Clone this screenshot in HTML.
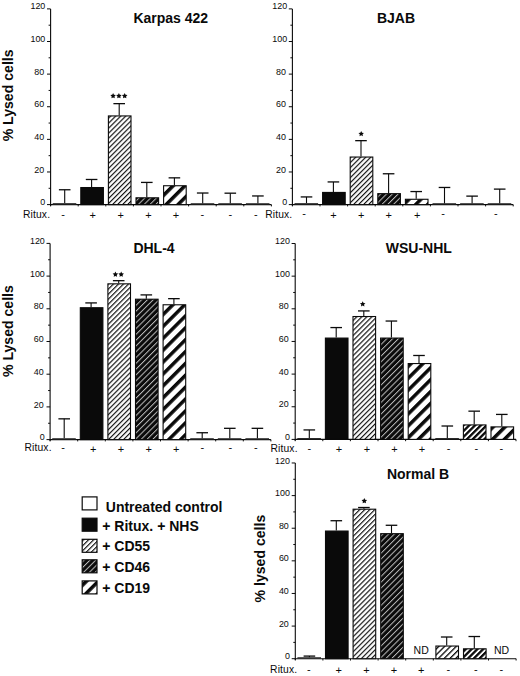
<!DOCTYPE html>
<html><head><meta charset="utf-8"><style>
html,body{margin:0;padding:0;background:#fff;overflow:hidden;width:520px;height:676px;}
svg{display:block;}
text{font-family:"Liberation Sans",sans-serif;fill:#0a0a0a;}
.tk{font-size:9.4px;text-anchor:end;}
.rx{font-size:10.3px;text-anchor:end;letter-spacing:0.15px;}
.pm{font-size:11px;text-anchor:middle;}
.ti{font-size:14px;font-weight:bold;}
.yl{font-size:14.1px;font-weight:bold;text-anchor:middle;}
.lg{font-size:14px;font-weight:bold;}
.nd{font-size:10.5px;text-anchor:middle;}
</style></head><body>
<svg width="520" height="676" viewBox="0 0 520 676">
<defs>
<pattern id="p55" patternUnits="userSpaceOnUse" width="3.55" height="3.55" patternTransform="rotate(45)">
<rect width="3.55" height="3.55" fill="#fff"/><rect x="0" y="0" width="1.15" height="3.55" fill="#0a0a0a"/></pattern>
<pattern id="p46" patternUnits="userSpaceOnUse" width="4.1" height="4.1" patternTransform="rotate(45)">
<rect width="4.1" height="4.1" fill="#0a0a0a"/><rect x="0" y="0" width="1.0" height="4.1" fill="#bbb"/></pattern>
<pattern id="m55" patternUnits="userSpaceOnUse" width="4.1" height="4.1" patternTransform="rotate(45)">
<rect width="4.1" height="4.1" fill="#fff"/><rect x="0" y="0" width="1.3" height="4.1" fill="#0a0a0a"/></pattern>
<pattern id="m46" patternUnits="userSpaceOnUse" width="4.1" height="4.1" patternTransform="rotate(45)">
<rect width="4.1" height="4.1" fill="#fff"/><rect x="0" y="0" width="2.3" height="4.1" fill="#0a0a0a"/></pattern>
<pattern id="m19" patternUnits="userSpaceOnUse" width="8.4" height="8.4" patternTransform="rotate(45) translate(2,0)">
<rect width="8.4" height="8.4" fill="#fff"/><rect x="0" y="0" width="3.5" height="8.4" fill="#0a0a0a"/></pattern>
<pattern id="p19" patternUnits="userSpaceOnUse" width="8.4" height="8.4" patternTransform="rotate(45)">
<rect width="8.4" height="8.4" fill="#fff"/><rect x="0" y="0" width="3.5" height="8.4" fill="#0a0a0a"/></pattern>
</defs>
<rect width="520" height="676" fill="#fff"/>
<line x1="50.6" y1="8.88" x2="50.6" y2="205.80" stroke="#0a0a0a" stroke-width="1.1"/>
<line x1="47.00" y1="204.60" x2="50.6" y2="204.60" stroke="#0a0a0a" stroke-width="1"/>
<text transform="translate(45.30,205.20) scale(0.95,1)" class="tk">0</text>
<line x1="48.60" y1="188.29" x2="50.6" y2="188.29" stroke="#0a0a0a" stroke-width="1"/>
<line x1="47.00" y1="171.98" x2="50.6" y2="171.98" stroke="#0a0a0a" stroke-width="1"/>
<text transform="translate(44.10,172.58) scale(0.95,1)" class="tk">20</text>
<line x1="48.60" y1="155.67" x2="50.6" y2="155.67" stroke="#0a0a0a" stroke-width="1"/>
<line x1="47.00" y1="139.36" x2="50.6" y2="139.36" stroke="#0a0a0a" stroke-width="1"/>
<text transform="translate(44.10,139.96) scale(0.95,1)" class="tk">40</text>
<line x1="48.60" y1="123.05" x2="50.6" y2="123.05" stroke="#0a0a0a" stroke-width="1"/>
<line x1="47.00" y1="106.74" x2="50.6" y2="106.74" stroke="#0a0a0a" stroke-width="1"/>
<text transform="translate(44.10,107.34) scale(0.95,1)" class="tk">60</text>
<line x1="48.60" y1="90.43" x2="50.6" y2="90.43" stroke="#0a0a0a" stroke-width="1"/>
<line x1="47.00" y1="74.12" x2="50.6" y2="74.12" stroke="#0a0a0a" stroke-width="1"/>
<text transform="translate(44.10,74.72) scale(0.95,1)" class="tk">80</text>
<line x1="48.60" y1="57.81" x2="50.6" y2="57.81" stroke="#0a0a0a" stroke-width="1"/>
<line x1="47.00" y1="41.50" x2="50.6" y2="41.50" stroke="#0a0a0a" stroke-width="1"/>
<text transform="translate(45.30,42.10) scale(0.95,1)" class="tk">100</text>
<line x1="48.60" y1="25.19" x2="50.6" y2="25.19" stroke="#0a0a0a" stroke-width="1"/>
<line x1="47.00" y1="8.88" x2="50.6" y2="8.88" stroke="#0a0a0a" stroke-width="1"/>
<text transform="translate(45.30,9.48) scale(0.95,1)" class="tk">120</text>
<line x1="50.6" y1="204.60" x2="271.40" y2="204.60" stroke="#0a0a0a" stroke-width="1.1"/>
<line x1="50.60" y1="204.60" x2="50.60" y2="206.40" stroke="#0a0a0a" stroke-width="1"/>
<line x1="78.20" y1="204.60" x2="78.20" y2="206.40" stroke="#0a0a0a" stroke-width="1"/>
<line x1="105.80" y1="204.60" x2="105.80" y2="206.40" stroke="#0a0a0a" stroke-width="1"/>
<line x1="133.40" y1="204.60" x2="133.40" y2="206.40" stroke="#0a0a0a" stroke-width="1"/>
<line x1="161.00" y1="204.60" x2="161.00" y2="206.40" stroke="#0a0a0a" stroke-width="1"/>
<line x1="188.60" y1="204.60" x2="188.60" y2="206.40" stroke="#0a0a0a" stroke-width="1"/>
<line x1="216.20" y1="204.60" x2="216.20" y2="206.40" stroke="#0a0a0a" stroke-width="1"/>
<line x1="243.80" y1="204.60" x2="243.80" y2="206.40" stroke="#0a0a0a" stroke-width="1"/>
<line x1="271.40" y1="204.60" x2="271.40" y2="206.40" stroke="#0a0a0a" stroke-width="1"/>
<line x1="64.70" y1="203.13" x2="64.70" y2="189.76" stroke="#0a0a0a" stroke-width="1.1"/>
<line x1="58.90" y1="189.76" x2="70.50" y2="189.76" stroke="#0a0a0a" stroke-width="1.3"/>
<rect x="52.70" y="203.13" width="23.60" height="1.47" fill="#2a2a2a"/>
<line x1="91.60" y1="186.99" x2="91.60" y2="179.48" stroke="#0a0a0a" stroke-width="1.1"/>
<line x1="85.80" y1="179.48" x2="97.40" y2="179.48" stroke="#0a0a0a" stroke-width="1.3"/>
<rect x="80.80" y="187.54" width="22.60" height="17.06" fill="#0a0a0a" stroke="#0a0a0a" stroke-width="1.1"/>
<line x1="119.20" y1="115.38" x2="119.20" y2="103.64" stroke="#0a0a0a" stroke-width="1.1"/>
<line x1="113.40" y1="103.64" x2="125.00" y2="103.64" stroke="#0a0a0a" stroke-width="1.3"/>
<rect x="108.40" y="115.93" width="22.60" height="88.67" fill="url(#p55)" stroke="#0a0a0a" stroke-width="1.1"/>
<line x1="146.80" y1="197.26" x2="146.80" y2="182.42" stroke="#0a0a0a" stroke-width="1.1"/>
<line x1="141.00" y1="182.42" x2="152.60" y2="182.42" stroke="#0a0a0a" stroke-width="1.3"/>
<rect x="136.00" y="197.81" width="22.60" height="6.79" fill="url(#p46)" stroke="#0a0a0a" stroke-width="1.1"/>
<line x1="174.40" y1="185.19" x2="174.40" y2="177.85" stroke="#0a0a0a" stroke-width="1.1"/>
<line x1="168.60" y1="177.85" x2="180.20" y2="177.85" stroke="#0a0a0a" stroke-width="1.3"/>
<rect x="163.60" y="185.74" width="22.60" height="18.86" fill="url(#p19)" stroke="#0a0a0a" stroke-width="1.1"/>
<line x1="202.70" y1="203.62" x2="202.70" y2="193.02" stroke="#0a0a0a" stroke-width="1.1"/>
<line x1="196.90" y1="193.02" x2="208.50" y2="193.02" stroke="#0a0a0a" stroke-width="1.3"/>
<rect x="190.70" y="203.20" width="23.60" height="1.40" fill="#2a2a2a"/>
<line x1="230.30" y1="203.62" x2="230.30" y2="193.18" stroke="#0a0a0a" stroke-width="1.1"/>
<line x1="224.50" y1="193.18" x2="236.10" y2="193.18" stroke="#0a0a0a" stroke-width="1.3"/>
<rect x="218.30" y="203.20" width="23.60" height="1.40" fill="#2a2a2a"/>
<line x1="257.90" y1="203.62" x2="257.90" y2="195.96" stroke="#0a0a0a" stroke-width="1.1"/>
<line x1="252.10" y1="195.96" x2="263.70" y2="195.96" stroke="#0a0a0a" stroke-width="1.3"/>
<rect x="245.90" y="203.20" width="23.60" height="1.40" fill="#2a2a2a"/>
<polygon points="113.10,93.10 113.95,94.83 115.86,95.10 114.48,96.45 114.80,98.35 113.10,97.45 111.40,98.35 111.72,96.45 110.34,95.10 112.25,94.83" fill="#0a0a0a"/>
<polygon points="118.90,93.10 119.75,94.83 121.66,95.10 120.28,96.45 120.60,98.35 118.90,97.45 117.20,98.35 117.52,96.45 116.14,95.10 118.05,94.83" fill="#0a0a0a"/>
<polygon points="124.70,93.10 125.55,94.83 127.46,95.10 126.08,96.45 126.40,98.35 124.70,97.45 123.00,98.35 123.32,96.45 121.94,95.10 123.85,94.83" fill="#0a0a0a"/>
<text x="50.20" y="217.90" class="rx">Ritux.</text>
<text x="63.00" y="217.70" class="pm">-</text>
<text x="92.70" y="219.30" class="pm">+</text>
<text x="120.60" y="219.30" class="pm">+</text>
<text x="148.50" y="219.30" class="pm">+</text>
<text x="175.90" y="219.30" class="pm">+</text>
<text x="202.40" y="217.70" class="pm">-</text>
<text x="230.40" y="217.70" class="pm">-</text>
<text x="255.80" y="217.70" class="pm">-</text>
<text x="133.4" y="22.9" class="ti">Karpas 422</text>
<text transform="translate(12.6,95.4) rotate(-90)" class="yl">% Lysed cells</text>
<line x1="292.4" y1="8.88" x2="292.4" y2="205.80" stroke="#0a0a0a" stroke-width="1.1"/>
<line x1="288.80" y1="204.60" x2="292.4" y2="204.60" stroke="#0a0a0a" stroke-width="1"/>
<text transform="translate(287.10,205.20) scale(0.95,1)" class="tk">0</text>
<line x1="290.40" y1="188.29" x2="292.4" y2="188.29" stroke="#0a0a0a" stroke-width="1"/>
<line x1="288.80" y1="171.98" x2="292.4" y2="171.98" stroke="#0a0a0a" stroke-width="1"/>
<text transform="translate(285.90,172.58) scale(0.95,1)" class="tk">20</text>
<line x1="290.40" y1="155.67" x2="292.4" y2="155.67" stroke="#0a0a0a" stroke-width="1"/>
<line x1="288.80" y1="139.36" x2="292.4" y2="139.36" stroke="#0a0a0a" stroke-width="1"/>
<text transform="translate(285.90,139.96) scale(0.95,1)" class="tk">40</text>
<line x1="290.40" y1="123.05" x2="292.4" y2="123.05" stroke="#0a0a0a" stroke-width="1"/>
<line x1="288.80" y1="106.74" x2="292.4" y2="106.74" stroke="#0a0a0a" stroke-width="1"/>
<text transform="translate(285.90,107.34) scale(0.95,1)" class="tk">60</text>
<line x1="290.40" y1="90.43" x2="292.4" y2="90.43" stroke="#0a0a0a" stroke-width="1"/>
<line x1="288.80" y1="74.12" x2="292.4" y2="74.12" stroke="#0a0a0a" stroke-width="1"/>
<text transform="translate(285.90,74.72) scale(0.95,1)" class="tk">80</text>
<line x1="290.40" y1="57.81" x2="292.4" y2="57.81" stroke="#0a0a0a" stroke-width="1"/>
<line x1="288.80" y1="41.50" x2="292.4" y2="41.50" stroke="#0a0a0a" stroke-width="1"/>
<text transform="translate(287.10,42.10) scale(0.95,1)" class="tk">100</text>
<line x1="290.40" y1="25.19" x2="292.4" y2="25.19" stroke="#0a0a0a" stroke-width="1"/>
<line x1="288.80" y1="8.88" x2="292.4" y2="8.88" stroke="#0a0a0a" stroke-width="1"/>
<text transform="translate(287.10,9.48) scale(0.95,1)" class="tk">120</text>
<line x1="292.4" y1="204.60" x2="513.20" y2="204.60" stroke="#0a0a0a" stroke-width="1.1"/>
<line x1="292.40" y1="204.60" x2="292.40" y2="206.40" stroke="#0a0a0a" stroke-width="1"/>
<line x1="320.00" y1="204.60" x2="320.00" y2="206.40" stroke="#0a0a0a" stroke-width="1"/>
<line x1="347.60" y1="204.60" x2="347.60" y2="206.40" stroke="#0a0a0a" stroke-width="1"/>
<line x1="375.20" y1="204.60" x2="375.20" y2="206.40" stroke="#0a0a0a" stroke-width="1"/>
<line x1="402.80" y1="204.60" x2="402.80" y2="206.40" stroke="#0a0a0a" stroke-width="1"/>
<line x1="430.40" y1="204.60" x2="430.40" y2="206.40" stroke="#0a0a0a" stroke-width="1"/>
<line x1="458.00" y1="204.60" x2="458.00" y2="206.40" stroke="#0a0a0a" stroke-width="1"/>
<line x1="485.60" y1="204.60" x2="485.60" y2="206.40" stroke="#0a0a0a" stroke-width="1"/>
<line x1="513.20" y1="204.60" x2="513.20" y2="206.40" stroke="#0a0a0a" stroke-width="1"/>
<line x1="306.50" y1="203.13" x2="306.50" y2="196.93" stroke="#0a0a0a" stroke-width="1.1"/>
<line x1="300.70" y1="196.93" x2="312.30" y2="196.93" stroke="#0a0a0a" stroke-width="1.3"/>
<rect x="294.50" y="203.13" width="23.60" height="1.47" fill="#2a2a2a"/>
<line x1="333.40" y1="191.88" x2="333.40" y2="181.93" stroke="#0a0a0a" stroke-width="1.1"/>
<line x1="327.60" y1="181.93" x2="339.20" y2="181.93" stroke="#0a0a0a" stroke-width="1.3"/>
<rect x="322.60" y="192.43" width="22.60" height="12.17" fill="#0a0a0a" stroke="#0a0a0a" stroke-width="1.1"/>
<line x1="361.00" y1="156.49" x2="361.00" y2="140.66" stroke="#0a0a0a" stroke-width="1.1"/>
<line x1="355.20" y1="140.66" x2="366.80" y2="140.66" stroke="#0a0a0a" stroke-width="1.3"/>
<rect x="350.20" y="157.04" width="22.60" height="47.56" fill="url(#p55)" stroke="#0a0a0a" stroke-width="1.1"/>
<line x1="388.60" y1="193.10" x2="388.60" y2="173.77" stroke="#0a0a0a" stroke-width="1.1"/>
<line x1="382.80" y1="173.77" x2="394.40" y2="173.77" stroke="#0a0a0a" stroke-width="1.3"/>
<rect x="377.80" y="193.65" width="22.60" height="10.95" fill="url(#p46)" stroke="#0a0a0a" stroke-width="1.1"/>
<line x1="416.20" y1="198.73" x2="416.20" y2="191.55" stroke="#0a0a0a" stroke-width="1.1"/>
<line x1="410.40" y1="191.55" x2="422.00" y2="191.55" stroke="#0a0a0a" stroke-width="1.3"/>
<rect x="405.40" y="199.28" width="22.60" height="5.32" fill="url(#p19)" stroke="#0a0a0a" stroke-width="1.1"/>
<line x1="444.50" y1="203.62" x2="444.50" y2="187.47" stroke="#0a0a0a" stroke-width="1.1"/>
<line x1="438.70" y1="187.47" x2="450.30" y2="187.47" stroke="#0a0a0a" stroke-width="1.3"/>
<rect x="432.50" y="203.20" width="23.60" height="1.40" fill="#2a2a2a"/>
<line x1="472.10" y1="203.62" x2="472.10" y2="196.12" stroke="#0a0a0a" stroke-width="1.1"/>
<line x1="466.30" y1="196.12" x2="477.90" y2="196.12" stroke="#0a0a0a" stroke-width="1.3"/>
<rect x="460.10" y="203.20" width="23.60" height="1.40" fill="#2a2a2a"/>
<line x1="499.70" y1="203.62" x2="499.70" y2="189.11" stroke="#0a0a0a" stroke-width="1.1"/>
<line x1="493.90" y1="189.11" x2="505.50" y2="189.11" stroke="#0a0a0a" stroke-width="1.3"/>
<rect x="487.70" y="203.20" width="23.60" height="1.40" fill="#2a2a2a"/>
<polygon points="361.20,130.90 362.05,132.63 363.96,132.90 362.58,134.25 362.90,136.15 361.20,135.25 359.50,136.15 359.82,134.25 358.44,132.90 360.35,132.63" fill="#0a0a0a"/>
<text x="292.40" y="217.50" class="rx">Ritux.</text>
<text x="304.00" y="217.30" class="pm">-</text>
<text x="333.50" y="218.90" class="pm">+</text>
<text x="361.20" y="218.90" class="pm">+</text>
<text x="388.70" y="218.90" class="pm">+</text>
<text x="417.10" y="218.90" class="pm">+</text>
<text x="443.00" y="217.30" class="pm">-</text>
<text x="495.90" y="217.30" class="pm">-</text>
<text x="376.9" y="22.6" class="ti">BJAB</text>
<line x1="50.1" y1="243.40" x2="50.1" y2="440.80" stroke="#0a0a0a" stroke-width="1.1"/>
<line x1="46.50" y1="439.60" x2="50.1" y2="439.60" stroke="#0a0a0a" stroke-width="1"/>
<text transform="translate(44.80,440.20) scale(0.95,1)" class="tk">0</text>
<line x1="48.10" y1="423.25" x2="50.1" y2="423.25" stroke="#0a0a0a" stroke-width="1"/>
<line x1="46.50" y1="406.90" x2="50.1" y2="406.90" stroke="#0a0a0a" stroke-width="1"/>
<text transform="translate(43.60,407.50) scale(0.95,1)" class="tk">20</text>
<line x1="48.10" y1="390.55" x2="50.1" y2="390.55" stroke="#0a0a0a" stroke-width="1"/>
<line x1="46.50" y1="374.20" x2="50.1" y2="374.20" stroke="#0a0a0a" stroke-width="1"/>
<text transform="translate(43.60,374.80) scale(0.95,1)" class="tk">40</text>
<line x1="48.10" y1="357.85" x2="50.1" y2="357.85" stroke="#0a0a0a" stroke-width="1"/>
<line x1="46.50" y1="341.50" x2="50.1" y2="341.50" stroke="#0a0a0a" stroke-width="1"/>
<text transform="translate(43.60,342.10) scale(0.95,1)" class="tk">60</text>
<line x1="48.10" y1="325.15" x2="50.1" y2="325.15" stroke="#0a0a0a" stroke-width="1"/>
<line x1="46.50" y1="308.80" x2="50.1" y2="308.80" stroke="#0a0a0a" stroke-width="1"/>
<text transform="translate(43.60,309.40) scale(0.95,1)" class="tk">80</text>
<line x1="48.10" y1="292.45" x2="50.1" y2="292.45" stroke="#0a0a0a" stroke-width="1"/>
<line x1="46.50" y1="276.10" x2="50.1" y2="276.10" stroke="#0a0a0a" stroke-width="1"/>
<text transform="translate(44.80,276.70) scale(0.95,1)" class="tk">100</text>
<line x1="48.10" y1="259.75" x2="50.1" y2="259.75" stroke="#0a0a0a" stroke-width="1"/>
<line x1="46.50" y1="243.40" x2="50.1" y2="243.40" stroke="#0a0a0a" stroke-width="1"/>
<text transform="translate(44.80,244.00) scale(0.95,1)" class="tk">120</text>
<line x1="50.1" y1="439.60" x2="270.90" y2="439.60" stroke="#0a0a0a" stroke-width="1.1"/>
<line x1="50.10" y1="439.60" x2="50.10" y2="441.40" stroke="#0a0a0a" stroke-width="1"/>
<line x1="77.70" y1="439.60" x2="77.70" y2="441.40" stroke="#0a0a0a" stroke-width="1"/>
<line x1="105.30" y1="439.60" x2="105.30" y2="441.40" stroke="#0a0a0a" stroke-width="1"/>
<line x1="132.90" y1="439.60" x2="132.90" y2="441.40" stroke="#0a0a0a" stroke-width="1"/>
<line x1="160.50" y1="439.60" x2="160.50" y2="441.40" stroke="#0a0a0a" stroke-width="1"/>
<line x1="188.10" y1="439.60" x2="188.10" y2="441.40" stroke="#0a0a0a" stroke-width="1"/>
<line x1="215.70" y1="439.60" x2="215.70" y2="441.40" stroke="#0a0a0a" stroke-width="1"/>
<line x1="243.30" y1="439.60" x2="243.30" y2="441.40" stroke="#0a0a0a" stroke-width="1"/>
<line x1="270.90" y1="439.60" x2="270.90" y2="441.40" stroke="#0a0a0a" stroke-width="1"/>
<line x1="64.20" y1="438.29" x2="64.20" y2="418.84" stroke="#0a0a0a" stroke-width="1.1"/>
<line x1="58.40" y1="418.84" x2="70.00" y2="418.84" stroke="#0a0a0a" stroke-width="1.3"/>
<rect x="52.20" y="438.20" width="23.60" height="1.40" fill="#2a2a2a"/>
<line x1="91.10" y1="307.17" x2="91.10" y2="302.91" stroke="#0a0a0a" stroke-width="1.1"/>
<line x1="85.30" y1="302.91" x2="96.90" y2="302.91" stroke="#0a0a0a" stroke-width="1.3"/>
<rect x="80.30" y="307.72" width="22.60" height="131.88" fill="#0a0a0a" stroke="#0a0a0a" stroke-width="1.1"/>
<line x1="118.70" y1="283.29" x2="118.70" y2="280.68" stroke="#0a0a0a" stroke-width="1.1"/>
<line x1="112.90" y1="280.68" x2="124.50" y2="280.68" stroke="#0a0a0a" stroke-width="1.3"/>
<rect x="107.90" y="283.84" width="22.60" height="155.76" fill="url(#p55)" stroke="#0a0a0a" stroke-width="1.1"/>
<line x1="146.30" y1="298.66" x2="146.30" y2="294.90" stroke="#0a0a0a" stroke-width="1.1"/>
<line x1="140.50" y1="294.90" x2="152.10" y2="294.90" stroke="#0a0a0a" stroke-width="1.3"/>
<rect x="135.50" y="299.21" width="22.60" height="140.39" fill="url(#p46)" stroke="#0a0a0a" stroke-width="1.1"/>
<line x1="173.90" y1="304.22" x2="173.90" y2="298.66" stroke="#0a0a0a" stroke-width="1.1"/>
<line x1="168.10" y1="298.66" x2="179.70" y2="298.66" stroke="#0a0a0a" stroke-width="1.3"/>
<rect x="163.10" y="304.77" width="22.60" height="134.83" fill="url(#p19)" stroke="#0a0a0a" stroke-width="1.1"/>
<line x1="202.20" y1="438.62" x2="202.20" y2="432.73" stroke="#0a0a0a" stroke-width="1.1"/>
<line x1="196.40" y1="432.73" x2="208.00" y2="432.73" stroke="#0a0a0a" stroke-width="1.3"/>
<rect x="190.20" y="438.20" width="23.60" height="1.40" fill="#2a2a2a"/>
<line x1="229.80" y1="438.62" x2="229.80" y2="428.32" stroke="#0a0a0a" stroke-width="1.1"/>
<line x1="224.00" y1="428.32" x2="235.60" y2="428.32" stroke="#0a0a0a" stroke-width="1.3"/>
<rect x="217.80" y="438.20" width="23.60" height="1.40" fill="#2a2a2a"/>
<line x1="257.40" y1="438.62" x2="257.40" y2="428.32" stroke="#0a0a0a" stroke-width="1.1"/>
<line x1="251.60" y1="428.32" x2="263.20" y2="428.32" stroke="#0a0a0a" stroke-width="1.3"/>
<rect x="245.40" y="438.20" width="23.60" height="1.40" fill="#2a2a2a"/>
<polygon points="115.40,271.60 116.25,273.33 118.16,273.60 116.78,274.95 117.10,276.85 115.40,275.95 113.70,276.85 114.02,274.95 112.64,273.60 114.55,273.33" fill="#0a0a0a"/>
<polygon points="121.20,271.60 122.05,273.33 123.96,273.60 122.58,274.95 122.90,276.85 121.20,275.95 119.50,276.85 119.82,274.95 118.44,273.60 120.35,273.33" fill="#0a0a0a"/>
<text x="51.70" y="451.40" class="rx">Ritux.</text>
<text x="63.00" y="450.80" class="pm">-</text>
<text x="93.10" y="452.50" class="pm">+</text>
<text x="121.00" y="452.50" class="pm">+</text>
<text x="148.70" y="452.50" class="pm">+</text>
<text x="176.30" y="452.50" class="pm">+</text>
<text x="202.40" y="450.80" class="pm">-</text>
<text x="230.40" y="450.80" class="pm">-</text>
<text x="255.80" y="450.80" class="pm">-</text>
<text x="133.4" y="252.6" class="ti">DHL-4</text>
<text transform="translate(12.6,331.1) rotate(-90)" class="yl">% Lysed cells</text>
<line x1="295.2" y1="243.50" x2="295.2" y2="440.60" stroke="#0a0a0a" stroke-width="1.1"/>
<line x1="291.60" y1="439.40" x2="295.2" y2="439.40" stroke="#0a0a0a" stroke-width="1"/>
<text transform="translate(289.90,440.00) scale(0.95,1)" class="tk">0</text>
<line x1="293.20" y1="423.07" x2="295.2" y2="423.07" stroke="#0a0a0a" stroke-width="1"/>
<line x1="291.60" y1="406.75" x2="295.2" y2="406.75" stroke="#0a0a0a" stroke-width="1"/>
<text transform="translate(288.70,407.35) scale(0.95,1)" class="tk">20</text>
<line x1="293.20" y1="390.42" x2="295.2" y2="390.42" stroke="#0a0a0a" stroke-width="1"/>
<line x1="291.60" y1="374.10" x2="295.2" y2="374.10" stroke="#0a0a0a" stroke-width="1"/>
<text transform="translate(288.70,374.70) scale(0.95,1)" class="tk">40</text>
<line x1="293.20" y1="357.77" x2="295.2" y2="357.77" stroke="#0a0a0a" stroke-width="1"/>
<line x1="291.60" y1="341.45" x2="295.2" y2="341.45" stroke="#0a0a0a" stroke-width="1"/>
<text transform="translate(288.70,342.05) scale(0.95,1)" class="tk">60</text>
<line x1="293.20" y1="325.12" x2="295.2" y2="325.12" stroke="#0a0a0a" stroke-width="1"/>
<line x1="291.60" y1="308.80" x2="295.2" y2="308.80" stroke="#0a0a0a" stroke-width="1"/>
<text transform="translate(288.70,309.40) scale(0.95,1)" class="tk">80</text>
<line x1="293.20" y1="292.47" x2="295.2" y2="292.47" stroke="#0a0a0a" stroke-width="1"/>
<line x1="291.60" y1="276.15" x2="295.2" y2="276.15" stroke="#0a0a0a" stroke-width="1"/>
<text transform="translate(289.90,276.75) scale(0.95,1)" class="tk">100</text>
<line x1="293.20" y1="259.82" x2="295.2" y2="259.82" stroke="#0a0a0a" stroke-width="1"/>
<line x1="291.60" y1="243.50" x2="295.2" y2="243.50" stroke="#0a0a0a" stroke-width="1"/>
<text transform="translate(289.90,244.10) scale(0.95,1)" class="tk">120</text>
<line x1="295.2" y1="439.40" x2="516.00" y2="439.40" stroke="#0a0a0a" stroke-width="1.1"/>
<line x1="295.20" y1="439.40" x2="295.20" y2="441.20" stroke="#0a0a0a" stroke-width="1"/>
<line x1="322.80" y1="439.40" x2="322.80" y2="441.20" stroke="#0a0a0a" stroke-width="1"/>
<line x1="350.40" y1="439.40" x2="350.40" y2="441.20" stroke="#0a0a0a" stroke-width="1"/>
<line x1="378.00" y1="439.40" x2="378.00" y2="441.20" stroke="#0a0a0a" stroke-width="1"/>
<line x1="405.60" y1="439.40" x2="405.60" y2="441.20" stroke="#0a0a0a" stroke-width="1"/>
<line x1="433.20" y1="439.40" x2="433.20" y2="441.20" stroke="#0a0a0a" stroke-width="1"/>
<line x1="460.80" y1="439.40" x2="460.80" y2="441.20" stroke="#0a0a0a" stroke-width="1"/>
<line x1="488.40" y1="439.40" x2="488.40" y2="441.20" stroke="#0a0a0a" stroke-width="1"/>
<line x1="516.00" y1="439.40" x2="516.00" y2="441.20" stroke="#0a0a0a" stroke-width="1"/>
<line x1="309.30" y1="438.09" x2="309.30" y2="429.93" stroke="#0a0a0a" stroke-width="1.1"/>
<line x1="303.50" y1="429.93" x2="315.10" y2="429.93" stroke="#0a0a0a" stroke-width="1.3"/>
<rect x="297.30" y="438.00" width="23.60" height="1.40" fill="#2a2a2a"/>
<line x1="336.20" y1="337.53" x2="336.20" y2="327.57" stroke="#0a0a0a" stroke-width="1.1"/>
<line x1="330.40" y1="327.57" x2="342.00" y2="327.57" stroke="#0a0a0a" stroke-width="1.3"/>
<rect x="325.40" y="338.08" width="22.60" height="101.32" fill="#0a0a0a" stroke="#0a0a0a" stroke-width="1.1"/>
<line x1="363.80" y1="315.98" x2="363.80" y2="310.92" stroke="#0a0a0a" stroke-width="1.1"/>
<line x1="358.00" y1="310.92" x2="369.60" y2="310.92" stroke="#0a0a0a" stroke-width="1.3"/>
<rect x="353.00" y="316.53" width="22.60" height="122.87" fill="url(#p55)" stroke="#0a0a0a" stroke-width="1.1"/>
<line x1="391.40" y1="337.53" x2="391.40" y2="321.04" stroke="#0a0a0a" stroke-width="1.1"/>
<line x1="385.60" y1="321.04" x2="397.20" y2="321.04" stroke="#0a0a0a" stroke-width="1.3"/>
<rect x="380.60" y="338.08" width="22.60" height="101.32" fill="url(#p46)" stroke="#0a0a0a" stroke-width="1.1"/>
<line x1="419.00" y1="363.00" x2="419.00" y2="355.49" stroke="#0a0a0a" stroke-width="1.1"/>
<line x1="413.20" y1="355.49" x2="424.80" y2="355.49" stroke="#0a0a0a" stroke-width="1.3"/>
<rect x="408.20" y="363.55" width="22.60" height="75.85" fill="url(#p19)" stroke="#0a0a0a" stroke-width="1.1"/>
<line x1="447.30" y1="438.42" x2="447.30" y2="426.01" stroke="#0a0a0a" stroke-width="1.1"/>
<line x1="441.50" y1="426.01" x2="453.10" y2="426.01" stroke="#0a0a0a" stroke-width="1.3"/>
<rect x="435.30" y="438.00" width="23.60" height="1.40" fill="#2a2a2a"/>
<line x1="474.20" y1="424.38" x2="474.20" y2="411.16" stroke="#0a0a0a" stroke-width="1.1"/>
<line x1="468.40" y1="411.16" x2="480.00" y2="411.16" stroke="#0a0a0a" stroke-width="1.3"/>
<rect x="463.40" y="424.93" width="22.60" height="14.47" fill="url(#m46)" stroke="#0a0a0a" stroke-width="1.1"/>
<line x1="501.80" y1="426.34" x2="501.80" y2="414.42" stroke="#0a0a0a" stroke-width="1.1"/>
<line x1="496.00" y1="414.42" x2="507.60" y2="414.42" stroke="#0a0a0a" stroke-width="1.3"/>
<rect x="491.00" y="426.89" width="22.60" height="12.51" fill="url(#m19)" stroke="#0a0a0a" stroke-width="1.1"/>
<polygon points="362.70,301.20 363.55,302.93 365.46,303.20 364.08,304.55 364.40,306.45 362.70,305.55 361.00,306.45 361.32,304.55 359.94,303.20 361.85,302.93" fill="#0a0a0a"/>
<text x="297.70" y="451.50" class="rx">Ritux.</text>
<text x="309.30" y="451.70" class="pm">-</text>
<text x="339.00" y="453.30" class="pm">+</text>
<text x="366.90" y="453.30" class="pm">+</text>
<text x="394.40" y="453.30" class="pm">+</text>
<text x="421.90" y="453.30" class="pm">+</text>
<text x="448.50" y="451.70" class="pm">-</text>
<text x="476.40" y="451.70" class="pm">-</text>
<text x="501.40" y="451.70" class="pm">-</text>
<text x="385.8" y="252.6" class="ti">WSU-NHL</text>
<line x1="295.3" y1="462.98" x2="295.3" y2="659.90" stroke="#0a0a0a" stroke-width="1.1"/>
<line x1="291.70" y1="658.70" x2="295.3" y2="658.70" stroke="#0a0a0a" stroke-width="1"/>
<text transform="translate(290.00,659.30) scale(0.95,1)" class="tk">0</text>
<line x1="293.30" y1="642.39" x2="295.3" y2="642.39" stroke="#0a0a0a" stroke-width="1"/>
<line x1="291.70" y1="626.08" x2="295.3" y2="626.08" stroke="#0a0a0a" stroke-width="1"/>
<text transform="translate(288.80,626.68) scale(0.95,1)" class="tk">20</text>
<line x1="293.30" y1="609.77" x2="295.3" y2="609.77" stroke="#0a0a0a" stroke-width="1"/>
<line x1="291.70" y1="593.46" x2="295.3" y2="593.46" stroke="#0a0a0a" stroke-width="1"/>
<text transform="translate(288.80,594.06) scale(0.95,1)" class="tk">40</text>
<line x1="293.30" y1="577.15" x2="295.3" y2="577.15" stroke="#0a0a0a" stroke-width="1"/>
<line x1="291.70" y1="560.84" x2="295.3" y2="560.84" stroke="#0a0a0a" stroke-width="1"/>
<text transform="translate(288.80,561.44) scale(0.95,1)" class="tk">60</text>
<line x1="293.30" y1="544.53" x2="295.3" y2="544.53" stroke="#0a0a0a" stroke-width="1"/>
<line x1="291.70" y1="528.22" x2="295.3" y2="528.22" stroke="#0a0a0a" stroke-width="1"/>
<text transform="translate(288.80,528.82) scale(0.95,1)" class="tk">80</text>
<line x1="293.30" y1="511.91" x2="295.3" y2="511.91" stroke="#0a0a0a" stroke-width="1"/>
<line x1="291.70" y1="495.60" x2="295.3" y2="495.60" stroke="#0a0a0a" stroke-width="1"/>
<text transform="translate(290.00,496.20) scale(0.95,1)" class="tk">100</text>
<line x1="293.30" y1="479.29" x2="295.3" y2="479.29" stroke="#0a0a0a" stroke-width="1"/>
<line x1="291.70" y1="462.98" x2="295.3" y2="462.98" stroke="#0a0a0a" stroke-width="1"/>
<text transform="translate(290.00,463.58) scale(0.95,1)" class="tk">120</text>
<line x1="295.3" y1="658.70" x2="516.10" y2="658.70" stroke="#0a0a0a" stroke-width="1.1"/>
<line x1="295.30" y1="658.70" x2="295.30" y2="660.50" stroke="#0a0a0a" stroke-width="1"/>
<line x1="322.90" y1="658.70" x2="322.90" y2="660.50" stroke="#0a0a0a" stroke-width="1"/>
<line x1="350.50" y1="658.70" x2="350.50" y2="660.50" stroke="#0a0a0a" stroke-width="1"/>
<line x1="378.10" y1="658.70" x2="378.10" y2="660.50" stroke="#0a0a0a" stroke-width="1"/>
<line x1="405.70" y1="658.70" x2="405.70" y2="660.50" stroke="#0a0a0a" stroke-width="1"/>
<line x1="433.30" y1="658.70" x2="433.30" y2="660.50" stroke="#0a0a0a" stroke-width="1"/>
<line x1="460.90" y1="658.70" x2="460.90" y2="660.50" stroke="#0a0a0a" stroke-width="1"/>
<line x1="488.50" y1="658.70" x2="488.50" y2="660.50" stroke="#0a0a0a" stroke-width="1"/>
<line x1="516.10" y1="658.70" x2="516.10" y2="660.50" stroke="#0a0a0a" stroke-width="1"/>
<line x1="309.40" y1="657.23" x2="309.40" y2="656.09" stroke="#0a0a0a" stroke-width="1.1"/>
<line x1="303.60" y1="656.09" x2="315.20" y2="656.09" stroke="#0a0a0a" stroke-width="1.3"/>
<rect x="297.40" y="657.23" width="23.60" height="1.47" fill="#2a2a2a"/>
<line x1="336.30" y1="530.50" x2="336.30" y2="520.72" stroke="#0a0a0a" stroke-width="1.1"/>
<line x1="330.50" y1="520.72" x2="342.10" y2="520.72" stroke="#0a0a0a" stroke-width="1.3"/>
<rect x="325.50" y="531.05" width="22.60" height="127.65" fill="#0a0a0a" stroke="#0a0a0a" stroke-width="1.1"/>
<line x1="363.90" y1="508.65" x2="363.90" y2="507.51" stroke="#0a0a0a" stroke-width="1.1"/>
<line x1="358.10" y1="507.51" x2="369.70" y2="507.51" stroke="#0a0a0a" stroke-width="1.3"/>
<rect x="353.10" y="509.20" width="22.60" height="149.50" fill="url(#p55)" stroke="#0a0a0a" stroke-width="1.1"/>
<line x1="391.50" y1="533.11" x2="391.50" y2="525.28" stroke="#0a0a0a" stroke-width="1.1"/>
<line x1="385.70" y1="525.28" x2="397.30" y2="525.28" stroke="#0a0a0a" stroke-width="1.3"/>
<rect x="380.70" y="533.66" width="22.60" height="125.04" fill="url(#p46)" stroke="#0a0a0a" stroke-width="1.1"/>
<text x="421.15" y="654.1" class="nd">ND</text>
<line x1="446.70" y1="645.49" x2="446.70" y2="637.01" stroke="#0a0a0a" stroke-width="1.1"/>
<line x1="440.90" y1="637.01" x2="452.50" y2="637.01" stroke="#0a0a0a" stroke-width="1.3"/>
<rect x="435.90" y="646.04" width="22.60" height="12.66" fill="url(#m55)" stroke="#0a0a0a" stroke-width="1.1"/>
<line x1="474.30" y1="648.26" x2="474.30" y2="636.52" stroke="#0a0a0a" stroke-width="1.1"/>
<line x1="468.50" y1="636.52" x2="480.10" y2="636.52" stroke="#0a0a0a" stroke-width="1.3"/>
<rect x="463.50" y="648.81" width="22.60" height="9.89" fill="url(#m46)" stroke="#0a0a0a" stroke-width="1.1"/>
<text x="501.60" y="654.1" class="nd">ND</text>
<polygon points="364.30,498.10 365.15,499.83 367.06,500.10 365.68,501.45 366.00,503.35 364.30,502.45 362.60,503.35 362.92,501.45 361.54,500.10 363.45,499.83" fill="#0a0a0a"/>
<text x="297.30" y="672.50" class="rx">Ritux.</text>
<text x="308.90" y="672.80" class="pm">-</text>
<text x="338.80" y="674.40" class="pm">+</text>
<text x="366.50" y="674.40" class="pm">+</text>
<text x="394.00" y="674.40" class="pm">+</text>
<text x="421.25" y="674.40" class="pm">+</text>
<text x="448.25" y="672.80" class="pm">-</text>
<text x="475.75" y="672.80" class="pm">-</text>
<text x="501.25" y="672.80" class="pm">-</text>
<text x="386.9" y="478.8" class="ti">Normal B</text>
<text transform="translate(265.0,558.6) rotate(-90)" class="yl">% lysed cells</text>
<rect x="82.2" y="496.90" width="14.8" height="13.0" fill="#fff" stroke="#0a0a0a" stroke-width="1.2"/>
<text x="105.8" y="511.60" class="lg">Untreated control</text>
<rect x="82.2" y="518.20" width="14.8" height="13.0" fill="#0a0a0a" stroke="#0a0a0a" stroke-width="1.2"/>
<text x="102.3" y="531.00" class="lg">+ Ritux. + NHS</text>
<rect x="82.2" y="539.30" width="14.8" height="13.0" fill="url(#p55)" stroke="#0a0a0a" stroke-width="1.2"/>
<text x="102.3" y="551.00" class="lg">+ CD55</text>
<rect x="82.2" y="559.80" width="14.8" height="13.0" fill="url(#p46)" stroke="#0a0a0a" stroke-width="1.2"/>
<text x="102.3" y="571.60" class="lg">+ CD46</text>
<rect x="82.2" y="580.90" width="14.8" height="13.0" fill="url(#p19)" stroke="#0a0a0a" stroke-width="1.2"/>
<text x="102.3" y="593.20" class="lg">+ CD19</text>
</svg>
</body></html>
